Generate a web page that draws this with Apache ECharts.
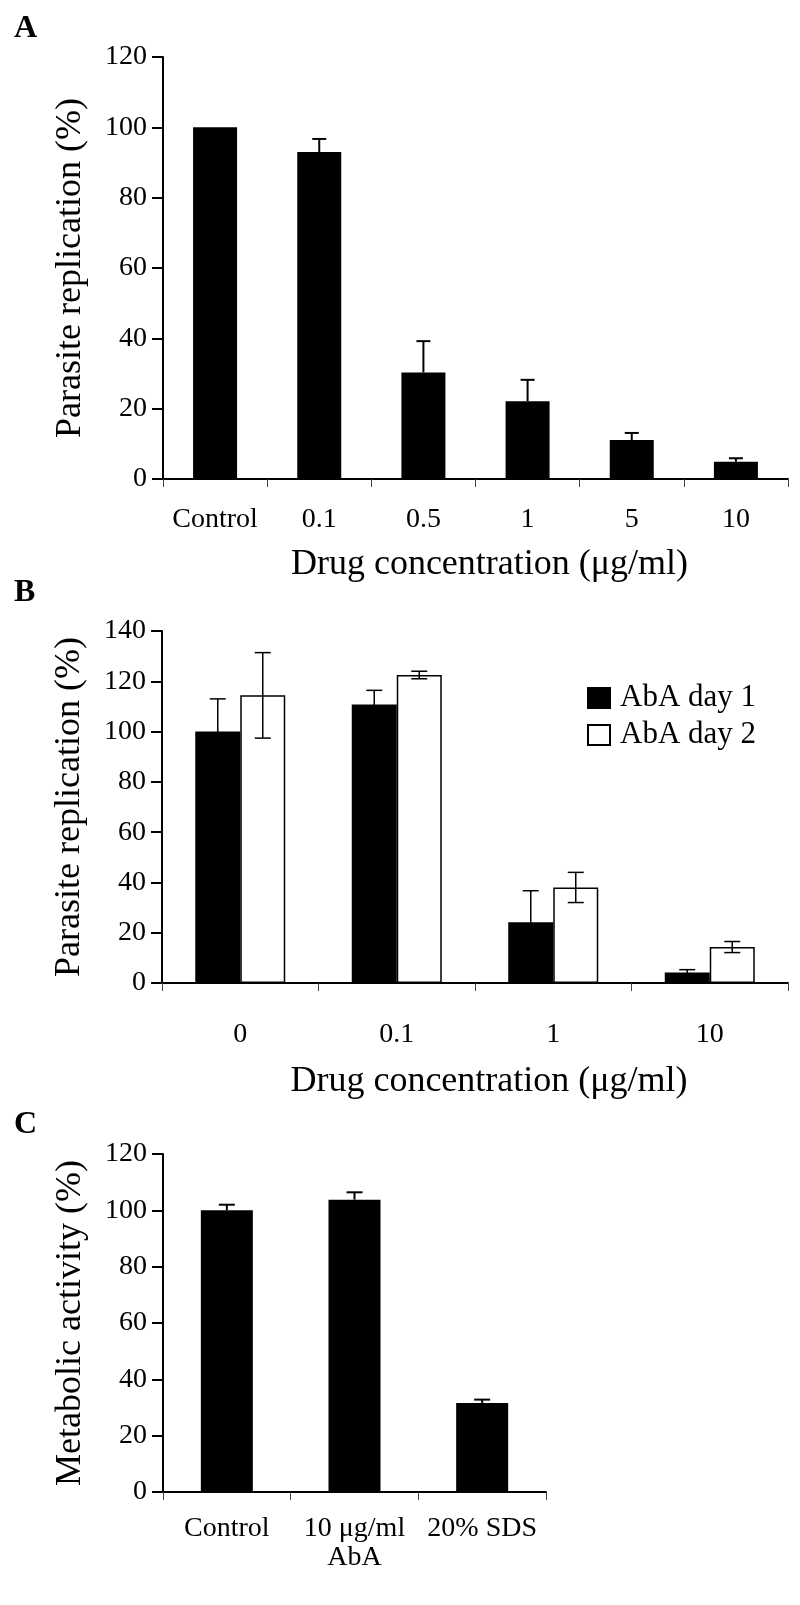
<!DOCTYPE html>
<html><head><meta charset="utf-8">
<script src="https://cdn.jsdelivr.net/npm/echarts@6/dist/echarts.min.js"></script>
<style>html,body{margin:0;padding:0;background:#fff}#c{width:800px;height:1605px}</style>
</head><body><div id="c"></div><script>
// ---- Panel A ----
const catsA = ['Control', '0.1', '0.5', '1', '5', '10'];
const valsA = [100, 93, 30.3, 22.1, 11.1, 4.9];
const errA = [0, 3.7, 8.9, 6.1, 2.0, 1.0];
const yTicksA = [0, 20, 40, 60, 80, 100, 120];
// ---- Panel B ----
const catsB = ['0', '0.1', '1', '10'];
const namesB = ['AbA day 1', 'AbA day 2'];
const day1 = [100, 110.8, 24.2, 4.2];
const err1 = [13, 5.6, 12.5, 1.1];
const day2 = [114.4, 122.5, 38.0, 14.3];
const err2 = [17, 1.5, 6.0, 2.2];
const yTicksB = [0, 20, 40, 60, 80, 100, 120, 140];
// ---- Panel C ----
const catsC = ['Control', '10 μg/ml\nAbA', '20% SDS'];
const valsC = [100, 103.8, 31.6];
const errC = [2.0, 2.6, 1.2];
const yTicksC = [0, 20, 40, 60, 80, 100, 120];

const FONT = "'Liberation Serif','Times New Roman',serif";
const chart = echarts.init(document.getElementById('c'), null, {renderer: 'canvas'});

function yAxis(gi, ticks, name) {
  return {
    type: 'value', gridIndex: gi, min: ticks[0], max: ticks[ticks.length - 1],
    interval: ticks[1] - ticks[0],
    name: name, nameLocation: 'middle', nameGap: 74,
    nameTextStyle: {fontFamily: FONT, fontSize: 36, color: '#000'},
    axisLine: {show: true, lineStyle: {color: '#000', width: 2}},
    axisTick: {show: true, length: 11, lineStyle: {color: '#000', width: 2}},
    axisLabel: {fontFamily: FONT, fontSize: 28, color: '#000', margin: 16},
    splitLine: {show: false}
  };
}
function xAxis(gi, cats, labelMargin, nameGap) {
  return {
    type: 'category', gridIndex: gi, data: cats,
    name: nameGap ? 'Drug concentration (μg/ml)' : '', nameLocation: 'middle', nameGap: nameGap || 0,
    nameTextStyle: {fontFamily: FONT, fontSize: 36, color: '#000', padding: [0, 0, 0, 28]},
    axisLine: {show: true, lineStyle: {color: '#000', width: 2}},
    axisTick: {show: true, length: 8, lineStyle: {color: '#444', width: 1}},
    axisLabel: {fontFamily: FONT, fontSize: 28, color: '#000', margin: labelMargin, lineHeight: 29, interval: 0}
  };
}
function errSeries(xi, vals, errs, offset, twoSided, cap, lw) {
  return {
    type: 'custom', xAxisIndex: xi, yAxisIndex: xi, z: 5, silent: true,
    encode: {x: 0, y: 1},
    data: vals.map((v, i) => [i, v, errs[i]]),
    renderItem(params, api) {
      const i = api.value(0), v = api.value(1), e = api.value(2);
      if (!e) return null;
      const top = api.coord([i, v + e]);
      const bot = api.coord([i, twoSided ? v - e : v]);
      const x = top[0] + offset;
      const st = {stroke: '#000', lineWidth: lw};
      const ch = [
        {type: 'line', shape: {x1: x, y1: top[1], x2: x, y2: bot[1]}, style: st},
        {type: 'line', shape: {x1: x - cap / 2, y1: top[1], x2: x + cap / 2, y2: top[1]}, style: st}
      ];
      if (twoSided) ch.push({type: 'line', shape: {x1: x - cap / 2, y1: bot[1], x2: x + cap / 2, y2: bot[1]}, style: st});
      return {type: 'group', children: ch};
    }
  };
}

const letter = (t, top) => ({text: t, left: 9, top: top,
  textStyle: {fontFamily: FONT, fontSize: 32, fontWeight: 'bold', color: '#000'}});

const option = {
  animation: false,
  backgroundColor: '#fff',
  title: [letter('A', 8), letter('B', 572), letter('C', 1104)],
  legend: {
    data: namesB, orient: 'vertical', left: 582, top: 677, icon: 'rect',
    itemWidth: 22, itemHeight: 20, itemGap: 5,
    textStyle: {fontFamily: FONT, fontSize: 31, color: '#000', lineHeight: 32, padding: [0, 0, 0, 5]}
  },
  grid: [
    {left: 163, top: 57, width: 625, height: 422},
    {left: 162, top: 631, width: 626, height: 352},
    {left: 163, top: 1154, width: 383, height: 338}
  ],
  xAxis: [xAxis(0, catsA, 26, 68), xAxis(1, catsB, 37, 81), xAxis(2, catsC, 22, 0)],
  yAxis: [yAxis(0, yTicksA, 'Parasite replication (%)'),
          yAxis(1, yTicksB, 'Parasite replication (%)'),
          yAxis(2, yTicksC, 'Metabolic activity (%)')],
  series: [
    {type: 'bar', xAxisIndex: 0, yAxisIndex: 0, data: valsA, barWidth: 44, itemStyle: {color: '#000'}},
    errSeries(0, valsA, errA, 0, false, 14, 2),
    {type: 'bar', name: namesB[0], xAxisIndex: 1, yAxisIndex: 1, data: day1, barWidth: 45, barGap: '0%',
     itemStyle: {color: '#000', borderColor: '#000', borderWidth: 1.5}},
    {type: 'bar', name: namesB[1], xAxisIndex: 1, yAxisIndex: 1, data: day2, barWidth: 45, barGap: '0%',
     itemStyle: {color: '#fff', borderColor: '#000', borderWidth: 1.5}},
    errSeries(1, day1, err1, -22.5, true, 16, 1.5),
    errSeries(1, day2, err2, 22.5, true, 16, 1.5),
    {type: 'bar', xAxisIndex: 2, yAxisIndex: 2, data: valsC, barWidth: 52, itemStyle: {color: '#000'}},
    errSeries(2, valsC, errC, 0, false, 16, 2)
  ]
};
chart.setOption(option);
</script></body></html>
